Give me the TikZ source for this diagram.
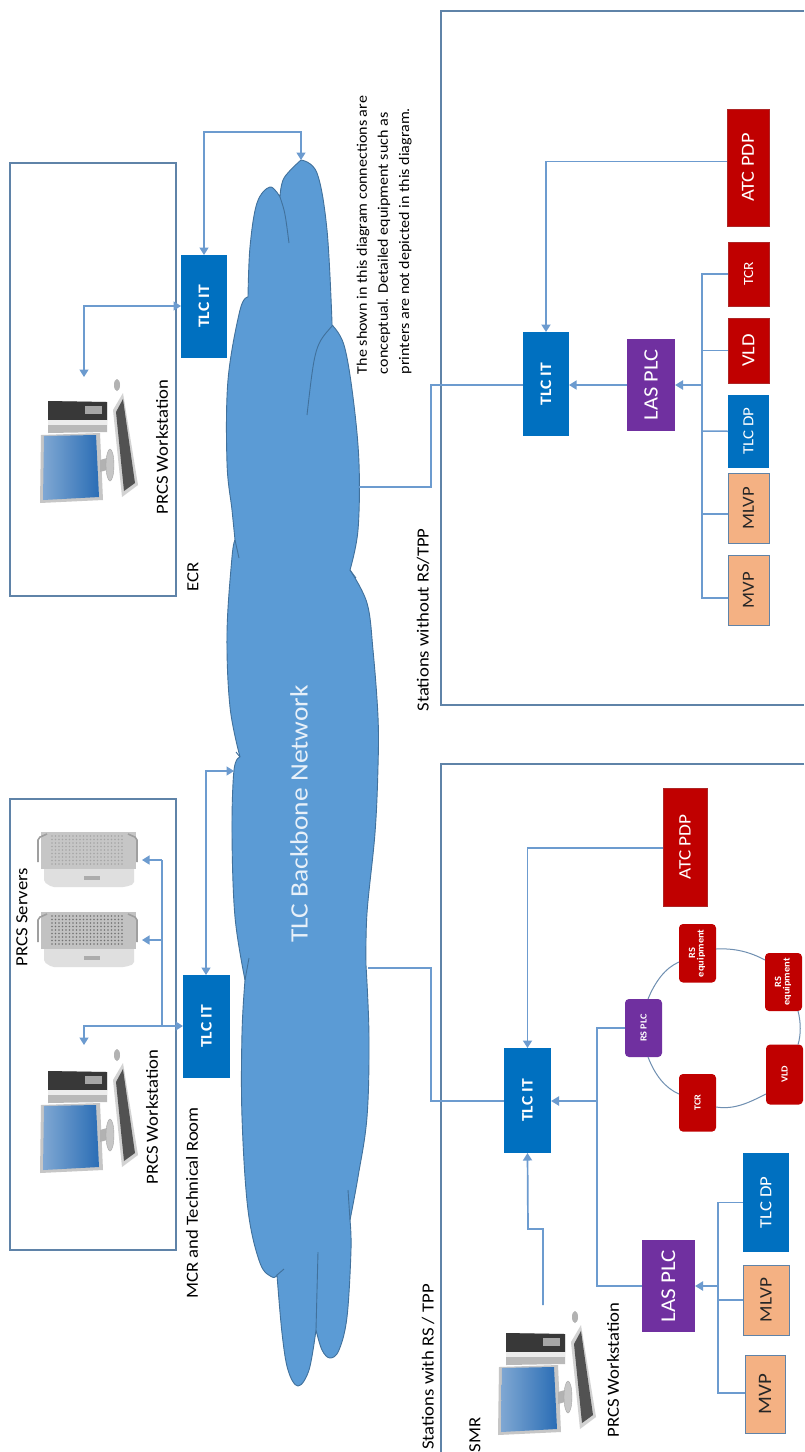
\documentclass[tikz,border=0pt]{standalone}
\usepackage{fontspec}
\usepackage{graphicx}
\setmainfont{Carlito}
\usetikzlibrary{arrows.meta,calc,shapes.geometric}
\definecolor{linec}{HTML}{6C9BCF}
\definecolor{framec}{HTML}{5F83A8}
\definecolor{cloudc}{HTML}{5B9BD5}
\definecolor{cloudl}{HTML}{41719C}
\definecolor{itblue}{HTML}{0070C0}
\definecolor{purp}{HTML}{7030A0}
\definecolor{redb}{HTML}{C00000}
\definecolor{orangeb}{HTML}{F4B183}
\definecolor{scrn}{HTML}{2A6DB5}
\newcommand{\fs}[1]{\fontsize{#1}{#1}\selectfont}
\newcommand{\rot}[1]{\rotatebox{90}{\scalebox{1.1}[1]{#1}}}
\newcommand{\mybox}[7]{%
  \pgfmathsetmacro\bxc{(#3+#5)/2}\pgfmathsetmacro\byc{(#4+#6)/2}%
  \pgfmathsetmacro\bxw{#5-#3}\pgfmathsetmacro\byh{#6-#4}%
  \node[#2,minimum width=\bxw pt,minimum height=\byh pt] (#1) at (\bxc,\byc) {#7};}
\newcommand{\lab}[5][black]{\node[lbl,text=#1] (#2) at (#3,#4) {\rot{#5}};}
\newcommand{\workstation}[2]{%
\begin{scope}[shift={(#1,#2)}]
  % tower
  \fill[gray!55] (48,401) -- (107,402) -- (107,432) -- (48,433) -- cycle;
  \fill[black!78] (48,401) -- (107,402) -- (107,420) -- (48,420) -- cycle;
  \fill[gray!70] (85,406) rectangle (102,414);
  \fill[white!85!gray] (48,420) -- (107,420) -- (107,425) -- (48,425) -- cycle;
  % monitor
  \fill[gray!45] (41,435) -- (100,433) -- (103,500) -- (40,503) -- cycle;
  \shade[left color=scrn!60!white,right color=scrn] (44,436) -- (96,435) -- (99,497) -- (43,500) -- cycle;
  % stand
  \fill[gray!60] (100,460) -- (107,458) -- (107,470) -- (100,472) -- cycle;
  \fill[gray!45,draw=gray!70] (110,465) ellipse (4 and 16);
  % keyboard
  \fill[gray!35] (113,410) -- (123,393) -- (138,485) -- (122,497) -- cycle;
  \fill[black!68] (116,412) -- (123,399) -- (135,483) -- (124,491) -- cycle;
  % mouse
  \fill[gray!60] (117,385) ellipse (3 and 6);
\end{scope}}
\newcommand{\server}[4]{%
\begin{scope}[shift={(#1,#2)}]
  \fill[gray!25,rounded corners=2] (44,0) -- (134,0) -- (134,52) -- (125,55) -- (52,55) -- (44,50) -- cycle;
  \fill[gray!#3] (41,0) rectangle (136,37);
  \foreach \dx in {52,55.5,...,124}{\foreach \dy in {4,7.5,...,33}{\fill[black!#4] (\dx,\dy) circle (.9);}}
  \draw[gray!75,line width=1.6,rounded corners=2] (38,30) -- (38,6) -- (47,2);
  \draw[gray!75,line width=1.6,rounded corners=2] (137,30) -- (137,6) -- (128,2);
  \fill[gray!65] (84,44) rectangle (100,48);
\end{scope}}
\tikzset{
  x=1pt,y=-1pt,
  conn/.style={draw=linec,line width=1.5pt},
  arr/.style={conn,-{Triangle[width=9pt,length=7.5pt]}},
  dblarr/.style={conn,{Triangle[width=9pt,length=7.5pt]}-{Triangle[width=9pt,length=7.5pt]}},
  framel/.style={draw=framec,line width=1.1pt},
  blk/.style={inner sep=0pt,outer sep=0pt,text=white,font=\fs{15}},
  itbox/.style={blk,fill=itblue,font=\fs{16}\bfseries},
  dpbox/.style={blk,fill=itblue},
  plcbox/.style={blk,fill=purp,font=\fs{20.4}},
  redbox/.style={blk,fill=redb,draw=redb!70!gray,line width=.6pt},
  orbox/.style={blk,fill=orangeb,draw=framec,line width=.9pt,text=black!85,font=\fs{17}},
  rrbox/.style={blk,fill=redb,rounded corners=4pt,font=\fs{9.3}\bfseries},
  lbl/.style={inner sep=0pt,outer sep=0pt,font=\fs{17}},
  ring/.style={draw=framec!90,line width=1pt},
}
\begin{document}
\begin{tikzpicture}
\useasboundingbox (0,0) rectangle (804,1452);
\fill[white] (0,0) rectangle (804,1452);

% cloud
\path[fill=cloudc,draw=cloudl,line width=.9pt,line join=round]
  plot[smooth,tension=.6] coordinates {(301,160) (317,173) (327,230) (332,322)}
  -- plot[smooth,tension=.6] coordinates {(332,325) (344,345) (353,397) (359,463) (358,530) (350,570)}
  -- plot[smooth,tension=.6] coordinates {(350,570) (367,603) (373,650) (378,717) (378,767) (375,833) (367,913) (366,965)}
  -- plot[smooth,tension=.6] coordinates {(366,965) (369,1037) (367,1117) (358,1177) (350,1220)}
  -- plot[smooth,tension=.6] coordinates {(350,1220) (351,1250) (347,1317) (339,1350) (330,1358) (322,1350) (316,1330)}
  -- plot[smooth,tension=.6] coordinates {(316,1330) (309,1370) (298,1386) (288,1370) (282,1333) (277,1275)}
  -- plot[smooth,tension=.6] coordinates {(277,1275) (272,1277) (260,1263) (248,1210) (242,1117) (242,1033) (245,980)}
  -- plot[smooth,tension=.6] coordinates {(245,980) (235,917) (232,833) (234,770) (240,757)}
  -- plot[smooth,tension=.6] coordinates {(240,757) (230,707) (227,633) (232,557) (235,540)}
  -- plot[smooth,tension=.6] coordinates {(235,540) (232,510) (227,463) (228,380) (240,310) (248,297)}
  -- plot[smooth,tension=.6] coordinates {(248,297) (250,247) (257,203) (270,187) (280,197)}
  -- plot[smooth,tension=.6] coordinates {(280,197) (284,178) (301,160)}
  -- cycle;
\draw[cloudl,line width=.9pt] (280,197) .. controls (285,212) .. (289,243);
\draw[cloudl,line width=.9pt] (333,325) .. controls (315,345) .. (307,415);
\draw[cloudl,line width=.9pt] (350,570) -- (356,578);
\draw[cloudl,line width=.9pt] (235,540) -- (239,558);
\draw[cloudl,line width=.9pt] (240,757) -- (236,752);
\draw[cloudl,line width=.9pt] (245,980) -- (249,958);
\draw[cloudl,line width=.9pt] (350,1220) -- (348,1190);
\draw[cloudl,line width=.9pt] (316,1330) -- (318,1252);
\draw[cloudl,line width=.9pt] (277,1275) -- (284,1269);
\node[inner sep=0pt,text=white!85!cloudc,font=\fs{25}] (cloudlabel) at (299,814) {\rot{TLC Backbone Network}};

% cloud attachment points
\coordinate (cloudtop) at (301,160);
\coordinate (cloudleft) at (234,771);
\coordinate (cloudwo) at (359,487);
\coordinate (cloudw) at (368,968);

% frames
\node[framel,inner sep=0pt,minimum width=166pt,minimum height=433pt] (ecrframe) at (93,379.5) {};
\node[framel,inner sep=0pt,minimum width=166pt,minimum height=451pt] (mcrframe) at (93,1024.5) {};
\draw[framel] (804,11) -- (441,11) -- (441,705) -- (804,705);
\draw[framel] (804,764) -- (441,764) -- (441,1452);

% ECR
\workstation{0}{0}
\workstation{0}{670}
\workstation{458}{932}
\mybox{itecr}{itbox}{181}{255}{227}{358}{\rot{TLC IT}}
\mybox{itmcr}{itbox}{183}{975}{230}{1078}{\rot{TLC IT}}
\coordinate (wsecr) at (84,377);
\draw[dblarr] (itecr.west|-0,306) -| (wsecr);
\draw[dblarr] (itecr.north-|204,0) -- (204,132) -| (cloudtop);
\lab{lecr}{193}{577}{ECR}
\lab{lwsecr}{162}{447}{PRCS Workstation}

% MCR
\server{0}{912}{48}{55}
\server{0}{832}{45}{35}
\coordinate (srv1) at (142,940);
\coordinate (srv2) at (142,860);
\coordinate (wsmcr) at (84,1045);
\coordinate (busm) at (162,1026);
\draw[dblarr] (itmcr.west|-0,1026) -| (wsmcr);
\draw[conn] (busm) -- (162,860);
\draw[arr] (162,860) -- (srv2);
\draw[arr] (162,940) -- (srv1);
\draw[dblarr] (itmcr.north-|206,0) |- (cloudleft);
\lab{lserv}{22}{917}{PRCS Servers}
\lab{lwsmcr}{152}{1117}{PRCS Workstation}
\lab{lmcr}{192}{1203}{MCR and Technical Room}

% note
\node[inner sep=0pt] (note) at (385,235) {\rot{\fs{14.6}\begin{tabular}{@{}l@{}}The shown in this diagram connections are\\[6.5pt]conceptual. Detailed equipment such as\\[6.5pt]printers are not depicted in this diagram.\end{tabular}}};

% stations without
\mybox{itr}{itbox}{523}{332}{569}{436}{\rot{TLC IT}}
\mybox{lasr}{plcbox}{627}{339}{675}{431}{\rot{LAS PLC}}
\mybox{atcr}{redbox}{727}{109}{769}{226}{\rot{\fs{18.5}ATC PDP}}
\mybox{tcrr}{redbox}{728}{242}{769}{306}{\rot{\fs{14}TCR}}
\mybox{vldr}{redbox}{728}{318}{769}{383}{\rot{\fs{18.5}VLD}}
\mybox{dpr}{dpbox}{728}{394.5}{769}{468}{\rot{\fs{15.4}TLC DP}}
\mybox{mlvpr}{orbox}{728}{473.5}{769}{543}{\rot{MLVP}}
\mybox{mvpr}{orbox}{728}{555}{769}{625}{\rot{MVP}}
\coordinate (busr) at (702,385);
\draw[conn] (tcrr.west) -- (702,274) -- (702,598) -- (mvpr.west|-0,598);
\draw[conn] (vldr.west) -- (702,350.5);
\draw[conn] (dpr.west) -- (702,431);
\draw[conn] (mlvpr.west|-0,514) -- (702,514);
\draw[conn,line width=2.2pt,-{Triangle[width=9pt,length=8pt]}] (busr) -- (lasr.east);
\draw[arr] (lasr.west) -- (itr.east|-lasr.west);
\draw[arr,line width=1.9pt] (atcr.west|-0,161.5) -| (itr.north);
\draw[conn] (cloudwo) -| (431,385) -- (itr.west|-0,385);
\lab{lwo}{423}{620}{Stations without RS/TPP}

% stations with
\mybox{itb}{itbox}{504}{1048}{551}{1153}{\rot{TLC IT}}
\mybox{atcb}{redbox}{663}{788}{707}{906}{\rot{\fs{17.5}ATC PDP}}
\mybox{rsa}{rrbox}{679}{924}{716}{982.5}{\rot{\fs{9.5}\begin{tabular}{@{}c@{}}RS\\[-1pt]equipment\end{tabular}}}
\mybox{rsb}{rrbox}{765}{953}{802}{1011}{\rot{\fs{9.5}\begin{tabular}{@{}c@{}}RS\\[-1pt]equipment\end{tabular}}}
\mybox{vldb}{rrbox}{766}{1044.6}{803}{1104.5}{\rot{VLD}}
\mybox{tcrb}{rrbox}{679}{1074}{716}{1131.6}{\rot{TCR}}
\mybox{rsplc}{rrbox,fill=purp}{625}{999}{662}{1057}{\rot{RS PLC}}
\mybox{lasb}{plcbox}{642}{1240}{695}{1332}{\rot{\fs{21}LAS PLC}}
\mybox{dpb}{dpbox}{743}{1153}{789}{1252}{\rot{\fs{17}TLC DP}}
\mybox{mlvpb}{orbox}{743}{1265}{789}{1335}{\rot{\fs{17.5}MLVP}}
\mybox{mvpb}{orbox}{745}{1355}{785}{1433}{\rot{\fs{19}MVP}}
\coordinate (busb) at (597,1101);
\draw[ring] (rsplc.south-|648,0) .. controls (655,1075) and (665,1088) .. (tcrb.west|-0,1094);
\draw[ring] (tcrb.east|-0,1107) .. controls (735,1110) and (750,1102) .. (vldb.west|-0,1094);
\draw[ring] (vldb.north-|798,0) .. controls (801,1035) and (801,1022) .. (rsb.south-|798,0);
\draw[ring] (rsb.west|-0,960) .. controls (750,952) and (735,948) .. (rsa.east|-0,949);
\draw[ring] (rsa.west|-0,962) .. controls (665,968) and (655,982) .. (rsplc.north-|648,0);
\draw[conn] (rsplc.west) -| (busb);
\draw[conn] (lasb.west|-0,1286) -| (busb);
\draw[conn,line width=2.2pt,-{Triangle[width=9pt,length=8pt]}] (busb) -- (itb.east|-busb);
\draw[arr,line width=1.7pt] (atcb.west|-0,848) -| (itb.north);
\draw[conn] (cloudw) -| (431,1101) -- (itb.west|-0,1101);
\coordinate (wssmr) at (543,1305);
\draw[arr,line width=1.7pt] (wssmr) -- (543,1229) -- (528,1229) -- (itb.south);
\coordinate (busl) at (718,1286);
\draw[conn,line width=2.2pt,-{Triangle[width=9pt,length=8pt]}] (busl) -- (lasb.east|-busl);
\draw[conn] (dpb.west) -| (busl);
\draw[conn] (mlvpb.west|-0,1300) -| (busl);
\draw[conn] (mvpb.west|-0,1393) -| (busl);
\lab{lw}{428}{1367}{Stations with RS / TPP}
\lab{lsmr}{475}{1435}{SMR}
\lab{lwsb}{613}{1370}{PRCS Workstation}
\end{tikzpicture}
\end{document}
